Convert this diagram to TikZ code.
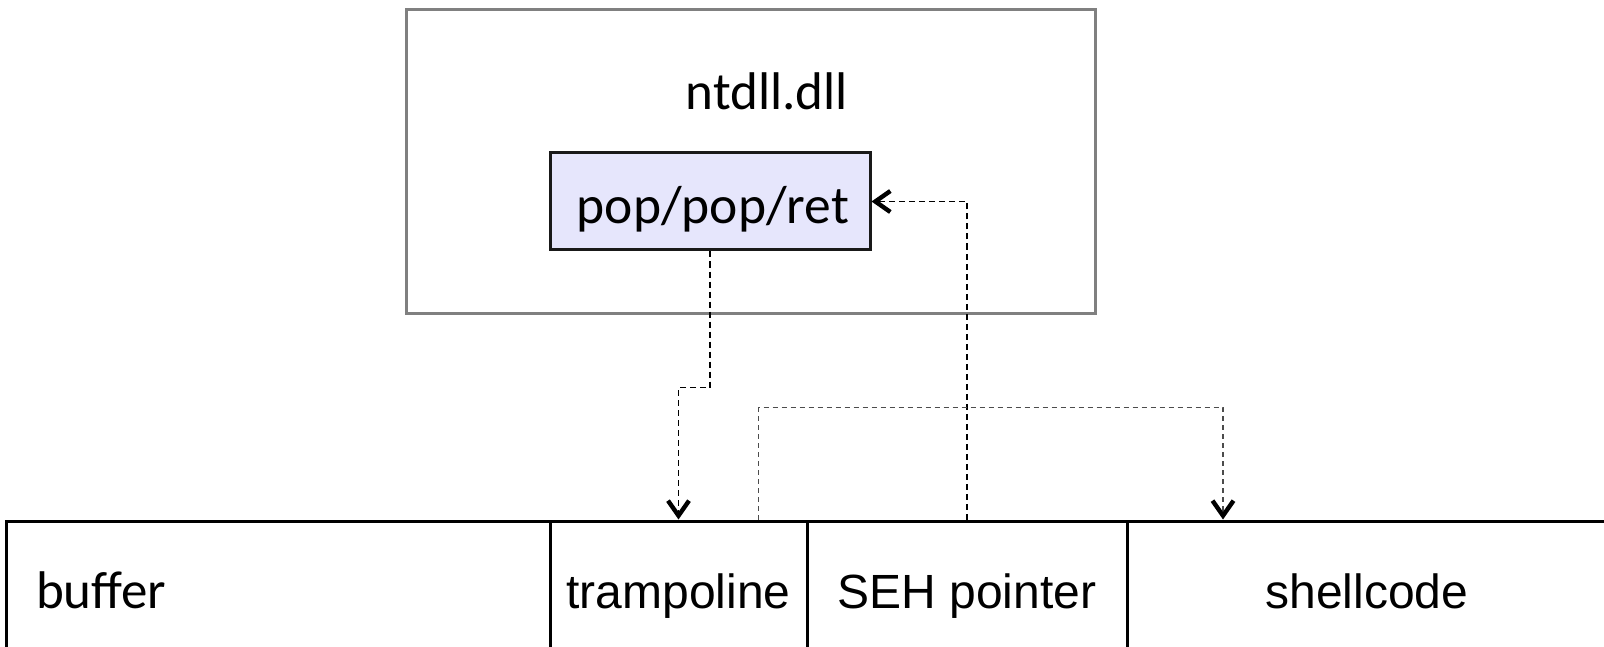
\documentclass[tikz,border=0pt]{standalone}
\usepackage{fontspec}
\setmainfont{Carlito}
\newfontfamily\arialfont{Liberation Sans}
\usetikzlibrary{arrows.meta,calc}
\definecolor{gadgetfill}{RGB}{230,230,252}
\begin{document}
\begin{tikzpicture}[x=1pt,y=-1pt,
  dllbox/.style={draw=black!50, line width=3pt, inner sep=0pt},
  gadget/.style={draw=black!90, fill=gadgetfill, line width=3pt, minimum width=320pt, minimum height=97pt, inner sep=0pt, font=\fontsize{53.5}{60}\selectfont, text height=45pt, text depth=0pt},
  cell/.style={draw=black, line width=3pt, minimum height=170pt, inner sep=0pt, text height=4pt, text depth=0pt, font=\arialfont\fontsize{48}{56}\selectfont},
  link/.style={line width=1.6pt, dash pattern=on 6pt off 4pt},
  thinlink/.style={draw=black!70, line width=1.2pt, dash pattern=on 5pt off 4pt},
  >={Straight Barb[length=15pt,width=21pt,line width'=4.4pt 0,color=black]},
]
\useasboundingbox (0,0) rectangle (1604,647);

% ntdll module
\node[dllbox, minimum width=689.5pt, minimum height=303.5pt] (dll) at (750.75,161.25) {};
\node[anchor=base, inner sep=0pt, font=\fontsize{53}{60}\selectfont] (dllname) at (767,109.5) {ntdll.dll};
\node[gadget, text width=320pt, align=center] (ppr) at (710,201.5) {\hspace*{6pt}pop/pop/ret};

% stack layout
\node[cell, minimum width=544pt, text width=484pt, align=left, font=\fontsize{53}{60}\selectfont] (buf) at (278,606) {buffer};
\node[cell, minimum width=257pt] (tramp) at (678.5,606) {trampoline};
\node[cell, minimum width=320pt] (seh) at (967,606) {SEH pointer};
\node[cell, minimum width=480pt] (shell) at (1367,606) {shellcode};

% connectors
\draw[link,->] (ppr.south) -- ++(0,136) -| (tramp.north);
\draw[link,->] (seh.north) |- (ppr.east);
\coordinate (t3) at ($(tramp.north east)+(-50,0)$);
\coordinate (s3) at ($(shell.north west)+(97.5,0)$);
\draw[thinlink,->] (t3) -- ++(0,-112) -| (s3);
\end{tikzpicture}
\end{document}
